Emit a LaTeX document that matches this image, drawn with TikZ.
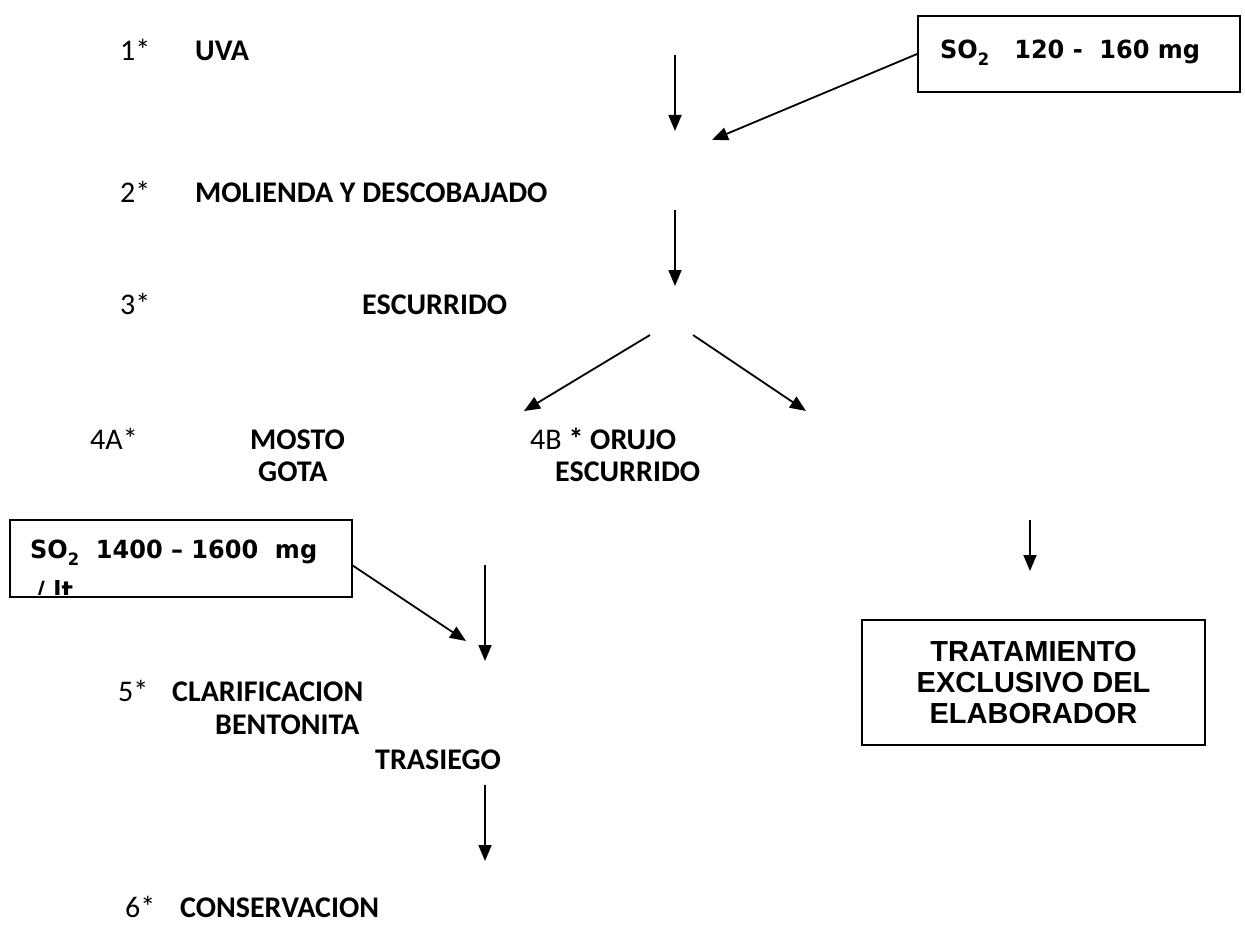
\documentclass[tikz,border=0pt]{standalone}
\usepackage{fontspec}
\setmainfont{Carlito}
\newfontfamily\verd[FakeStretch=0.96]{DejaVu Sans}
\newfontfamily\arialf{Liberation Sans}
\usetikzlibrary{arrows.meta}
\newcommand\subtwo{\raisebox{-0.28em}{\fontsize{17}{17}\selectfont 2}}
\begin{document}
\begin{tikzpicture}[x=1pt,y=-1pt,
 lbl/.style={anchor=base west,inner sep=0pt,font=\fontsize{30}{34}\selectfont\bfseries},
 num/.style={anchor=base west,inner sep=0pt,font=\fontsize{30}{34}\selectfont},
 arr/.style={line width=1.8pt,-{Triangle[length=16pt,width=13pt]}},
 boxline/.style={draw,line width=1.8pt,inner sep=0pt},
 sotext/.style={anchor=base west,inner sep=0pt,font=\verd\bfseries\fontsize{25}{30}\selectfont}]
\useasboundingbox (0,0) rectangle (1245,931);
% step labels
\node[num] (n1) at (120,61) {1*};
\node[lbl] (s1) at (195,61) {UVA};
\node[num] (n2) at (120,202) {2*};
\node[lbl] (s2) at (195,202) {MOLIENDA Y DESCOBAJADO};
\node[num] (n3) at (120,314) {3*};
\node[lbl] (s3) at (362,314) {ESCURRIDO};
\node[num] (n4a) at (90,449) {4A*};
\node[lbl] (s4a) at (250,449) {MOSTO};
\node[lbl] (s4a2) at (258,481) {GOTA};
\node[num] (n4b) at (530,449) {4B \textbf{* ORUJO}};
\node[lbl] (s4b2) at (555,481) {ESCURRIDO};
\node[num] (n5) at (118,701) {5*};
\node[lbl] (s5) at (172,701) {CLARIFICACION};
\node[lbl] (s5b) at (215,734) {BENTONITA};
\node[lbl] (s5c) at (375,769) {TRASIEGO};
\node[num] (n6) at (125,917) {6*};
\node[lbl] (s6) at (180,917) {CONSERVACION};
% boxes
\node[boxline,minimum width=322pt,minimum height=76pt] (b1) at (1079,54) {};
\node[sotext] (t1) at (940,59) {SO\subtwo\ \ \ 120 -\ \ 160 mg};
\node[boxline,minimum width=342pt,minimum height=77pt] (b2) at (181,558.5) {};
\node[sotext] (t2) at (30,558) {SO\subtwo\ \ 1400 – 1600\ \ mg};
\begin{scope}
\clip (b2.north west) rectangle ([yshift=3pt]b2.south east);
\node[sotext] (t2b) at (36,599) {/ lt};
\end{scope}
\node[boxline,minimum width=343pt,minimum height=125pt,align=center,
  font=\arialf\bfseries\fontsize{29}{31}\selectfont] (b3) at (1033.5,682.5)
  {TRATAMIENTO\\EXCLUSIVO DEL\\ELABORADOR};
% connector coordinates
\coordinate (a1s) at (675,55);   \coordinate (a1e) at (675,131);
\coordinate (d1e) at (712,140);
\coordinate (a2s) at (675,210);  \coordinate (a2e) at (675,286);
\coordinate (sLs) at (650,335);  \coordinate (sLe) at (524,411);
\coordinate (sRs) at (693,335);  \coordinate (sRe) at (806,411);
\coordinate (d2s) at (352,565);  \coordinate (d2e) at (466,641);
\coordinate (a3s) at (485,565);  \coordinate (a3e) at (485,661);
\coordinate (a4s) at (1030,520); \coordinate (a4e) at (1030,571);
\coordinate (a5s) at (485,785);  \coordinate (a5e) at (485,861);
% connectors
\draw[arr] (a1s) -- (a1e);
\draw[arr] (b1.west) -- (d1e);
\draw[arr] (a2s) -- (a2e);
\draw[arr] (sLs) -- (sLe);
\draw[arr] (sRs) -- (sRe);
\draw[arr] (d2s) -- (d2e);
\draw[arr] (a3s) -- (a3e);
\draw[arr] (a4s) -- (a4e);
\draw[arr] (a5s) -- (a5e);
\end{tikzpicture}
\end{document}
